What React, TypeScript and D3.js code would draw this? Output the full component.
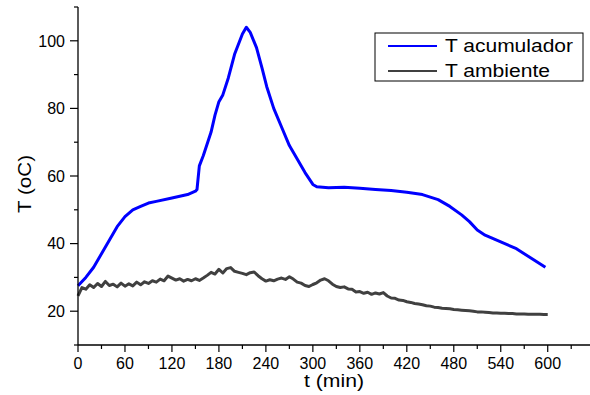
import React from 'react';
import * as d3 from 'd3';

// T acumulador (blue) [min, °C]
const accTime = [0, 10, 20, 30, 40, 50, 60, 70, 80, 90, 100, 120, 140, 150, 152, 155, 160, 170, 175, 180, 185, 192, 200, 210, 215, 220, 228, 235, 241, 250, 260, 270, 280, 290, 300, 305, 320, 340, 360, 380, 400, 420, 440, 460, 475, 490, 500, 510, 520, 540, 560, 580, 597];
const accTemp = [27.5, 30, 33, 37, 41, 45, 48, 50, 51, 52, 52.5, 53.5, 54.5, 55.5, 56, 63, 66, 73, 78, 82, 84, 89, 96, 102, 104, 102.5, 98, 92, 86.5, 80, 74.5, 69, 65, 61, 57.5, 56.8, 56.5, 56.7, 56.4, 56, 55.7, 55.2, 54.5, 53, 51, 48.5, 46.5, 44, 42.5, 40.5, 38.5, 35.5, 33];

// T ambiente (dark grey), every 5 min from 0 to 600
const ambStep = 5;
const ambTemp = [
  24.5, 27.0, 26.5, 27.8, 27.0, 28.2, 27.3, 28.8, 27.6, 28.0,
  27.2, 28.3, 27.4, 28.1, 27.5, 28.6, 27.8, 28.7, 28.2, 29.0,
  28.6, 29.5, 29.0, 30.4, 29.8, 29.2, 29.6, 28.9, 29.4, 29.0,
  29.6, 29.1, 29.8, 30.6, 31.5, 31.0, 32.4, 31.3, 32.6, 32.9,
  31.8, 31.5, 31.2, 30.8, 31.4, 31.6, 30.5, 29.6, 28.9, 29.3,
  29.0, 29.5, 29.8, 29.4, 30.2, 29.5, 28.6, 28.3, 27.6, 27.3,
  27.9, 28.4, 29.2, 29.6, 29.0, 28.0, 27.3, 27.0, 27.2, 26.6,
  26.5, 25.7, 25.8, 25.3, 25.6, 25.0, 25.4, 25.1, 25.5, 24.5,
  23.9, 23.8, 23.3, 23.2, 22.8, 22.6, 22.3, 22.1, 21.9, 21.6,
  21.5, 21.2, 21.1, 20.9, 20.8, 20.7, 20.5, 20.4, 20.3, 20.2,
  20.1, 20.0, 19.8, 19.8, 19.7, 19.6, 19.5, 19.5, 19.4, 19.4,
  19.3, 19.3, 19.2, 19.2, 19.2, 19.1, 19.1, 19.1, 19.1, 19.0,
  19.0,
];

const xTicks = [0, 60, 120, 180, 240, 300, 360, 420, 480, 540, 600];
const xMinor = [30, 90, 150, 210, 270, 330, 390, 450, 510, 570, 630];
const yTicks = [20, 40, 60, 80, 100];
const yMinor = [10, 30, 50, 70, 90, 110];
const seriesNames = ['T acumulador', 'T ambiente'];
const seriesColors = ['#0000ff', '#404040'];
const legendTextWidths = [128, 105];

const App = () => {
  const width = 590;
  const height = 395;
  const left = 78;
  const top = 7;
  const bottom = 345;

  const x = d3.scaleLinear().domain([0, 654]).range([left, 590]);
  const y = d3.scaleLinear().domain([10, 110]).range([bottom, top]);

  const line = d3.line<[number, number]>()
    .x(d => x(d[0]))
    .y(d => y(d[1]));

  const accData: [number, number][] = accTime.map((t, i) => [t, accTemp[i]]);
  const ambData: [number, number][] = ambTemp.map((v, i) => [i * ambStep, v]);

  const font = 'Arial, "Liberation Sans", sans-serif';

  return (
    <svg width={width} height={height} style={{ position: 'absolute', left: 0, top: 0 }}
      fontFamily={font}>
      <rect width={width} height={height} fill="#fff" />

      <path d={line(ambData) || ''} fill="none" stroke={seriesColors[1]} strokeWidth={3} strokeLinejoin="round" />
      <path d={line(accData) || ''} fill="none" stroke={seriesColors[0]} strokeWidth={3} strokeLinejoin="round" />

      {/* axes */}
      <line x1={left} x2={left} y1={top} y2={bottom} stroke="#000" strokeWidth={1.3} />
      <line x1={left} x2={590} y1={bottom} y2={bottom} stroke="#000" strokeWidth={1.3} />

      {xTicks.map(t => (
        <g key={'x' + t}>
          <line x1={x(t)} x2={x(t)} y1={bottom} y2={bottom + 7} stroke="#000" strokeWidth={1.2} />
          <text x={x(t)} y={369} textAnchor="middle" fontSize={16}>{t}</text>
        </g>
      ))}
      {xMinor.map(t => (
        <line key={'xm' + t} x1={x(t)} x2={x(t)} y1={bottom} y2={bottom + 4} stroke="#000" strokeWidth={1.2} />
      ))}
      {yTicks.map(t => (
        <g key={'y' + t}>
          <line x1={left - 8} x2={left} y1={y(t)} y2={y(t)} stroke="#000" strokeWidth={1.2} />
          <text x={65} y={y(t)} dy="0.36em" textAnchor="end" fontSize={16}>{t}</text>
        </g>
      ))}
      {yMinor.map(t => (
        <line key={'ym' + t} x1={left - 4} x2={left} y1={y(t)} y2={y(t)} stroke="#000" strokeWidth={1.2} />
      ))}

      <text x={334} y={387} textAnchor="middle" fontSize={18} textLength={60} lengthAdjust="spacingAndGlyphs">t (min)</text>
      <text transform={`translate(31, ${(top + bottom) / 2 + 8}) rotate(-90)`} textAnchor="middle" fontSize={18}
        textLength={58} lengthAdjust="spacingAndGlyphs">T (oC)</text>

      {/* legend */}
      <rect x={375} y={33} width={208} height={48} fill="#fff" stroke="#000" strokeWidth={1} />
      {seriesNames.map((name, i) => (
        <g key={name}>
          <line x1={388} x2={437} y1={46 + i * 25} y2={46 + i * 25} stroke={seriesColors[i]} strokeWidth={2} />
          <text x={445} y={46 + i * 25} dy="0.36em" fontSize={17.5}
            textLength={legendTextWidths[i]} lengthAdjust="spacingAndGlyphs">{name}</text>
        </g>
      ))}
    </svg>
  );
};

export default App;
